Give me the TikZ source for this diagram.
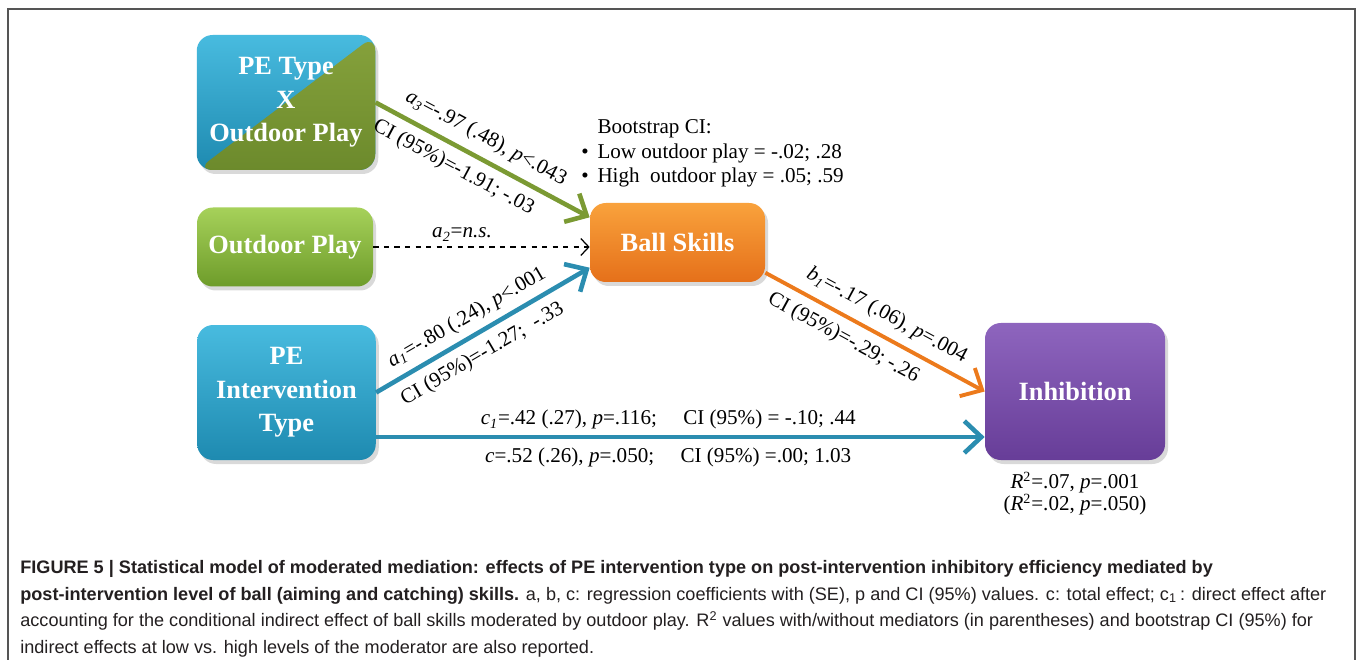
\documentclass[tikz,border=0pt]{standalone}
\usepackage{fontspec}
\setmainfont{Liberation Serif}
\newfontfamily\capfont{Liberation Sans}
\usepackage{xcolor}
\definecolor{peBlueTop}{HTML}{48BBDF}
\definecolor{peBlueBot}{HTML}{1E8AB0}
\definecolor{oliveTop}{HTML}{86A23C}
\definecolor{oliveBot}{HTML}{6C8A2C}
\definecolor{playTop}{HTML}{A6D15A}
\definecolor{playBot}{HTML}{6E9C2A}
\definecolor{ballTop}{HTML}{F9A23C}
\definecolor{ballBot}{HTML}{E5701A}
\definecolor{inhTop}{HTML}{8E65BE}
\definecolor{inhBot}{HTML}{673D98}
\definecolor{arrGreen}{HTML}{7B9A33}
\definecolor{arrBlue}{HTML}{2B8DB0}
\definecolor{arrOrange}{HTML}{EC7A1C}
\definecolor{capGray}{HTML}{231F20}
\definecolor{frameGray}{HTML}{555555}
\usepackage{tikz}
\usetikzlibrary{positioning,arrows.meta,shadows,calc}

\newcommand{\lblfont}{\fontsize{12}{14}\selectfont}
\newcommand{\boxfont}{\bfseries\fontsize{15}{19}\selectfont}

\begin{document}
\begin{tikzpicture}[
    every node/.style={font=\lblfont},
    var/.style={rounded corners=9pt, align=center, text=white, font=\boxfont,
                inner sep=2pt,
                drop shadow={opacity=0.3, shadow xshift=0.6mm, shadow yshift=-0.8mm}},
    tallbox/.style={var, minimum width=3.57cm, minimum height=2.7cm},
    flatbox/.style={var, minimum width=3.52cm, minimum height=1.58cm},
    eff/.style={-{Straight Barb[length=3.4mm, width=6.4mm]}, line width=2.6pt},
    nsarr/.style={dashed, line width=0.7pt, -{Straight Barb[length=1.6mm, width=3.4mm]}},
    lbl/.style={font=\lblfont, text=black, inner sep=3pt}]
  \useasboundingbox (0,0) rectangle (27.14,-13.2);
  \draw[frameGray, line width=1pt] (0.16,-13.2) -- (0.16,-0.18) -- (27.1,-0.18) -- (27.1,-13.2);

  % variables
  \node[tallbox, top color=peBlueTop, bottom color=peBlueBot,
        path picture={\shade[top color=oliveTop, bottom color=oliveBot]
          (path picture bounding box.south west) -- (path picture bounding box.north east)
          -- (path picture bounding box.south east) -- cycle;}]
       (pxo) at (5.72,-2.05) {PE Type\\X\\Outdoor Play};
  \node[flatbox, top color=playTop, bottom color=playBot] (op) at (5.70,-4.94) {Outdoor Play};
  \node[tallbox, top color=peBlueTop, bottom color=peBlueBot] (pei) at (5.73,-7.85) {PE\\Intervention\\Type};
  \node[flatbox, minimum width=3.5cm, top color=ballTop, bottom color=ballBot] (bs) at (13.55,-4.85) {Ball Skills};
  \node[tallbox, minimum width=3.6cm, minimum height=2.74cm, top color=inhTop, bottom color=inhBot]
       (inh) at (21.5,-7.83) {Inhibition};

  % paths
  \draw[eff, arrGreen] (pxo.east) -- (bs.164)
       node[lbl, sloped, above=2pt, pos=0.47] {\textit{a}\textsubscript{\textit{3}}=-.97 (.48), \textit{p}<.043}
       node[lbl, sloped, below=2pt, pos=0.41] {CI (95\%)=-1.91; -.03};
  \draw[nsarr] (op.east) -- (bs.west |- op.east)
       node[lbl, above, pos=0.41] {\textit{a}\textsubscript{\textit{2}}=\textit{n.s.}};
  \draw[eff, arrBlue] (pei.east) -- (bs.196)
       node[lbl, sloped, above=1pt, pos=0.47] {\textit{a}\textsubscript{\textit{1}}=-.80 (.24), \textit{p}<.001}
       node[lbl, sloped, below=2pt, pos=0.45] {CI (95\%)=-1.27;\ \ -.33};
  \draw[eff, arrOrange, line width=2.2pt] (bs.-19) -- (inh.west)
       node[lbl, sloped, above=2pt, pos=0.51] {\textit{b}\textsubscript{\textit{1}}=-.17 (.06), \textit{p}=.004}
       node[lbl, sloped, below=2pt, pos=0.40] {CI (95\%)=-.29; -.26};
  \coordinate (dstart) at ([yshift=-0.89cm]pei.east);
  \draw[eff, arrBlue] (dstart) -- (dstart -| inh.west)
       node[lbl, above, pos=0.48] {\textit{c}\textsubscript{\textit{1}}=.42 (.27), \textit{p}=.116;\quad\ CI (95\%) = -.10; .44}
       node[lbl, below=2pt, pos=0.48] {\textit{c}=.52 (.26), \textit{p}=.050;\quad\ CI (95\%) =.00; 1.03};

  % notes
  \node[lbl, inner sep=0pt, anchor=base west] (boot) at (11.62,-3.66)
       {\begin{tabular}[b]{@{}c@{\hspace{5pt}}l@{}}
          & Bootstrap CI:\\
          \textbullet & Low outdoor play = -.02; .28\\
          \textbullet & High\ \ outdoor play = .05; .59
        \end{tabular}};
  \node[lbl, below=0.12cm of inh, align=center, font=\fontsize{12}{12.5}\selectfont] (rsq)
       {\textit{R}\textsuperscript{2}=.07, \textit{p}=.001\\(\textit{R}\textsuperscript{2}=.02, \textit{p}=.050)};

  % caption
  \node[anchor=north west, align=left, inner sep=0pt, text=capGray,
        font={\capfont\fontsize{10.3}{15.1}\selectfont}] (cap) at (0.4,-11.2)
       {\textbf{FIGURE 5 \textbar\ Statistical model of moderated mediation: effects of PE intervention type on post-intervention inhibitory efficiency mediated by}\\
        \textbf{post-intervention level of ball (aiming and catching) skills.} a, b, c: regression coefficients with (SE), p and CI (95\%) values. c: total effect; c\textsubscript{1}\,: direct effect after\\
        accounting for the conditional indirect effect of ball skills moderated by outdoor play. R\textsuperscript{2} values with/without mediators (in parentheses) and bootstrap CI (95\%) for\\
        indirect effects at low vs. high levels of the moderator are also reported.};
\end{tikzpicture}
\end{document}
